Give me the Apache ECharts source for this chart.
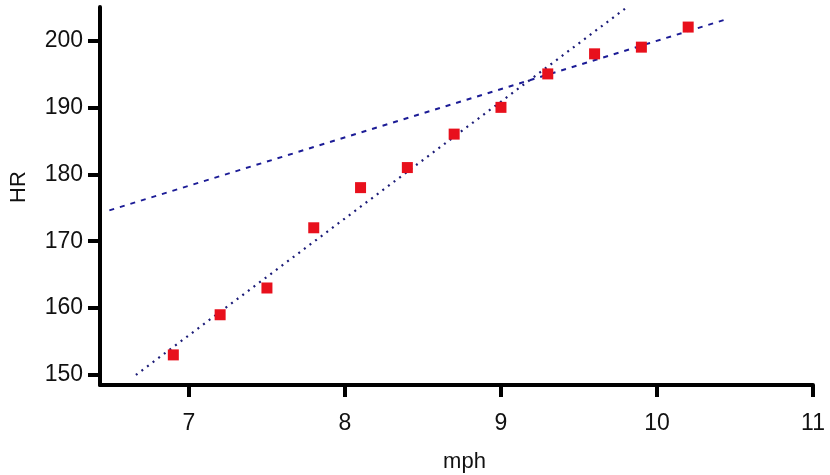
<!DOCTYPE html>
<html>
<head>
<meta charset="utf-8">
<script src="https://cdn.jsdelivr.net/npm/echarts@6/dist/echarts.min.js"></script>
<style>html,body{margin:0;padding:0;background:#fff;}#c{width:830px;height:475px;}</style>
</head>
<body>
<div id="c"></div>
<script>
const mph = [6.9, 7.2, 7.5, 7.8, 8.1, 8.4, 8.7, 9.0, 9.3, 9.6, 9.9, 10.2];
const hr = [153, 159, 163, 172, 178, 181, 186, 190, 195, 198, 199, 202];
const dashedLine = [[6.49, 174.6], [10.45, 203.2]];
const dottedLine = [[6.66, 150.0], [9.81, 205.0]];
const xTicks = [7, 8, 9, 10, 11];
const yTicks = [150, 160, 170, 180, 190, 200];

const points = mph.map((x, i) => [x, hr[i]]);
const font = 'Liberation Sans, Arial, sans-serif';
const chart = echarts.init(document.getElementById('c'), null, {renderer: 'canvas'});
chart.setOption({
  animation: false,
  backgroundColor: '#ffffff',
  grid: {left: 100, right: 17, top: 7, bottom: 90, containLabel: false, outerBoundsMode: 'none'},
  xAxis: {
    type: 'value', min: 6.43, max: 11,
    name: 'mph', nameLocation: 'middle', nameGap: 66,
    nameTextStyle: {color: '#111', fontSize: 22, fontFamily: font, padding: [0, 0, 0, 16]},
    axisLine: {show: true, lineStyle: {color: '#000', width: 4}},
    axisTick: {show: true, length: 12, lineStyle: {color: '#000', width: 4}, customValues: xTicks},
    axisLabel: {color: '#111', fontSize: 23, fontFamily: font, margin: 27, customValues: xTicks},
    splitLine: {show: false}
  },
  yAxis: {
    type: 'value', min: 148.5, max: 205,
    name: 'HR', nameLocation: 'middle', nameGap: 70,
    nameTextStyle: {color: '#111', fontSize: 22, fontFamily: font, padding: [0, 0, 0, 18]},
    axisLine: {show: true, lineStyle: {color: '#000', width: 4}},
    axisTick: {show: true, length: 12, lineStyle: {color: '#000', width: 4}, customValues: yTicks},
    axisLabel: {color: '#111', fontSize: 23, fontFamily: font, margin: 17, customValues: yTicks},
    splitLine: {show: false}
  },
  series: [
    {type: 'line', data: dashedLine, symbol: 'none', z: 2,
     lineStyle: {color: '#1c1c96', width: 2, type: [5, 6]}},
    {type: 'line', data: dottedLine, symbol: 'none', z: 2,
     lineStyle: {color: '#1c1c78', width: 2.2, type: [2, 5]}},
    {type: 'scatter', data: points, symbol: 'rect', symbolSize: 11, z: 3,
     itemStyle: {color: '#e8101c', opacity: 1}}
  ]
});
</script>
</body>
</html>
